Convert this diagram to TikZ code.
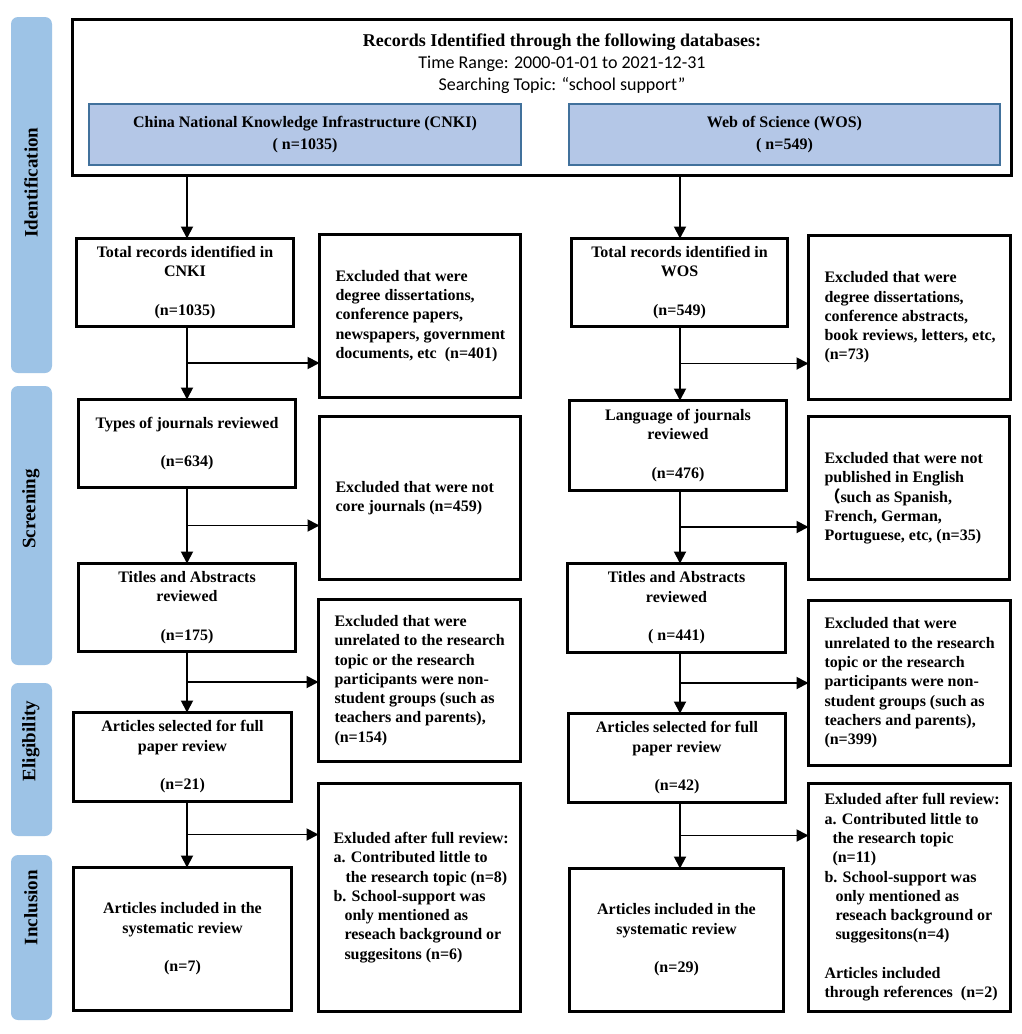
\documentclass[tikz,border=0pt]{standalone}
\usepackage{fontspec}
\setmainfont{Liberation Serif}
\newfontfamily\carlito{Carlito}
\newfontfamily\cjkfont{Noto Sans CJK SC}
\usetikzlibrary{arrows.meta,calc}
\definecolor{stagebl}{HTML}{9DC3E6}
\definecolor{dbfill}{HTML}{B4C7E7}
\definecolor{dbdraw}{HTML}{41719C}
\newcommand{\ctab}[1]{\begin{tabular}{@{}c@{}}#1\end{tabular}}
\newcommand{\ltab}[2]{\makebox[#1][l]{\begin{tabular}{@{}l@{}}#2\end{tabular}}}
\begin{document}
\begin{tikzpicture}[x=1pt,y=-1pt,
 every node/.style={inner sep=0pt, outer sep=0pt},
 mainbox/.style={draw, line width=3.4pt, font=\fontsize{16}{19.3}\selectfont\bfseries},
 dbbox/.style={draw=dbdraw, fill=dbfill, line width=1.6pt, font=\fontsize{16}{22}\selectfont\bfseries},
 stagebar/.style={fill=stagebl, rounded corners=7pt, minimum width=41pt},
 stagelbl/.style={rotate=90, font=\fontsize{19}{22}\selectfont\bfseries},
 arr/.style={line width=1.9pt, -{Triangle[length=12pt,width=12pt]}},
]
\fill[white] (0,0) rectangle (1021,1034);
\useasboundingbox (0,0) rectangle (1021,1034);

% stage bars
\node[stagebar, minimum height=356pt] (s1) at (31.5,195) {};
\node[stagebar, minimum height=279pt] (s2) at (31.5,525.5) {};
\node[stagebar, minimum height=153pt] (s3) at (31.5,759.5) {};
\node[stagebar, minimum height=165pt] (s4) at (31.5,937.5) {};
\node[stagelbl] (t1) at (31,182.5) {Identification};
\node[stagelbl] (t2) at (31,509) {Screening};
\node[stagelbl] (t3) at (31,741) {Eligibility};
\node[stagelbl] (t4) at (31,907.5) {Inclusion};

% top box
\node[draw, line width=3.2pt, minimum width=939pt, minimum height=156pt] (top) at (542,97.5) {};
\node[font=\fontsize{18}{22}\selectfont\bfseries] (hd1) at (562,42) {Records Identified through the following databases:};
\node[font=\carlito\fontsize{18}{22}\selectfont] (hd2) at (562,64) {Time Range: 2000-01-01 to 2021-12-31};
\node[font=\carlito\fontsize{18}{22}\selectfont] (hd3) at (562,86) {Searching Topic: “school support”};
\node[dbbox, minimum width=432pt, minimum height=61pt] (cnki) at (305,134.5)
  {\ctab{China National Knowledge Infrastructure (CNKI)\\( n=1035)}};
\node[dbbox, minimum width=431pt, minimum height=61pt] (wos) at (784.5,134.5)
  {\ctab{Web of Science (WOS)\\( n=549)}};

% left column
\node[mainbox, minimum width=217pt, minimum height=88pt] (L1) at (185,282.5)
  {\ctab{Total records identified in\\CNKI\\ \\(n=1035)}};
\node[mainbox, minimum width=217pt, minimum height=88pt] (L2) at (187,443.5)
  {\ctab{Types of journals reviewed\\ \\(n=634)}};
\node[mainbox, minimum width=217pt, minimum height=88pt] (L3) at (187,607.5)
  {\ctab{Titles and Abstracts\\reviewed\\ \\(n=175)}};
\node[mainbox, minimum width=218pt, minimum height=89pt] (L4) at (182.5,757)
  {\ctab{Articles selected for full\\paper review\\ \\(n=21)}};
\node[mainbox, minimum width=218pt, minimum height=143pt] (L5) at (182.5,939)
  {\ctab{Articles included in the\\systematic review\\ \\(n=7)}};

\node[mainbox, minimum width=201pt, minimum height=163pt] (E1L) at (420,316)
  {\ltab{169pt}{Excluded that were\\degree dissertations,\\conference papers,\\newspapers, government\\documents, etc\ \ (n=401)}};
\node[mainbox, minimum width=201pt, minimum height=163pt] (E2L) at (420,498)
  {\ltab{169pt}{Excluded that were not\\core journals (n=459)}};
\node[mainbox, minimum width=202pt, minimum height=162pt] (E3L) at (419.5,680.5)
  {\ltab{170pt}{Excluded that were\\unrelated to the research\\topic or the research\\participants were non-\\student groups (such as\\teachers and parents),\\(n=154)}};
\node[mainbox, minimum width=202pt, minimum height=228pt] (E4L) at (419.5,897.5)
  {\ltab{172pt}{Exluded after full review:\\a. Contributed little to\\\hspace*{12pt}the research topic (n=8)\\b. School-support was\\\hspace*{11pt}only mentioned as\\\hspace*{11pt}reseach background or\\\hspace*{11pt}suggesitons (n=6)}};

% right column
\node[mainbox, minimum width=216pt, minimum height=88pt] (R1) at (679.5,282.5)
  {\ctab{Total records identified in\\WOS\\ \\(n=549)}};
\node[mainbox, minimum width=217pt, minimum height=90pt] (R2) at (678,445.5)
  {\ctab{Language of journals\\reviewed\\ \\(n=476)}};
\node[mainbox, minimum width=218pt, minimum height=89pt] (R3) at (676.5,608)
  {\ctab{Titles and Abstracts\\reviewed\\ \\( n=441)}};
\node[mainbox, minimum width=217pt, minimum height=89pt] (R4) at (677,758)
  {\ctab{Articles selected for full\\paper review\\ \\(n=42)}};
\node[mainbox, minimum width=214pt, minimum height=143pt] (R5) at (676.5,940)
  {\ctab{Articles included in the\\systematic review\\ \\(n=29)}};

\node[mainbox, minimum width=202pt, minimum height=164pt] (E1R) at (909.5,317.5)
  {\ltab{170pt}{Excluded that were\\degree dissertations,\\conference abstracts,\\book reviews, letters, etc,\\(n=73)}};
\node[mainbox, minimum width=201pt, minimum height=163pt] (E2R) at (909,498)
  {\ltab{169pt}{Excluded that were not\\published in English\\{\cjkfont （}such as Spanish,\\French, German,\\Portuguese, etc, (n=35)}};
\node[mainbox, minimum width=202pt, minimum height=165pt] (E3R) at (909.5,683)
  {\ltab{170pt}{Excluded that were\\unrelated to the research\\topic or the research\\participants were non-\\student groups (such as\\teachers and parents),\\(n=399)}};
\node[mainbox, minimum width=202pt, minimum height=228pt] (E4R) at (909.5,897.5)
  {\ltab{170pt}{Exluded after full review:\\a. Contributed little to\\\hspace*{8pt}the research topic\\\hspace*{8pt}(n=11)\\b. School-support was\\\hspace*{11pt}only mentioned as\\\hspace*{11pt}reseach background or\\\hspace*{11pt}suggesitons(n=4)\\ \\Articles included\\through references\ \ (n=2)}};

% connectors
\coordinate (cL) at (187,0);
\coordinate (cR) at (680,0);
\draw[arr] (cL |- top.south) -- (cL |- L1.north);
\draw[arr] (cR |- top.south) -- (cR |- R1.north);

\draw[arr] (cL |- L1.south) -- (cL |- L2.north);
\draw[arr] (cL |- L2.south) -- (cL |- L3.north);
\draw[arr] (cL |- L3.south) -- (cL |- L4.north);
\draw[arr] (cL |- L4.south) -- (cL |- L5.north);
\draw[arr] (cR |- R1.south) -- (cR |- R2.north);
\draw[arr] (cR |- R2.south) -- (cR |- R3.north);
\draw[arr] (cR |- R3.south) -- (cR |- R4.north);
\draw[arr] (cR |- R4.south) -- (cR |- R5.north);

\coordinate (bL1) at ($(cL |- L1.south)!0.5!(cL |- L2.north)$);
\coordinate (bL2) at ($(cL |- L2.south)!0.5!(cL |- L3.north)$);
\coordinate (bL3) at ($(cL |- L3.south)!0.5!(cL |- L4.north)$);
\coordinate (bL4) at ($(cL |- L4.south)!0.5!(cL |- L5.north)$);
\coordinate (bR1) at ($(cR |- R1.south)!0.5!(cR |- R2.north)$);
\coordinate (bR2) at ($(cR |- R2.south)!0.5!(cR |- R3.north)$);
\coordinate (bR3) at ($(cR |- R3.south)!0.5!(cR |- R4.north)$);
\coordinate (bR4) at ($(cR |- R4.south)!0.5!(cR |- R5.north)$);
\draw[arr] (bL1) -- (bL1 -| E1L.west);
\draw[arr] (bL2) -- (bL2 -| E2L.west);
\draw[arr] (bL3) -- (bL3 -| E3L.west);
\draw[arr] (bL4) -- (bL4 -| E4L.west);
\draw[arr] (bR1) -- (bR1 -| E1R.west);
\draw[arr] (bR2) -- (bR2 -| E2R.west);
\draw[arr] (bR3) -- (bR3 -| E3R.west);
\draw[arr] (bR4) -- (bR4 -| E4R.west);
\end{tikzpicture}
\end{document}
